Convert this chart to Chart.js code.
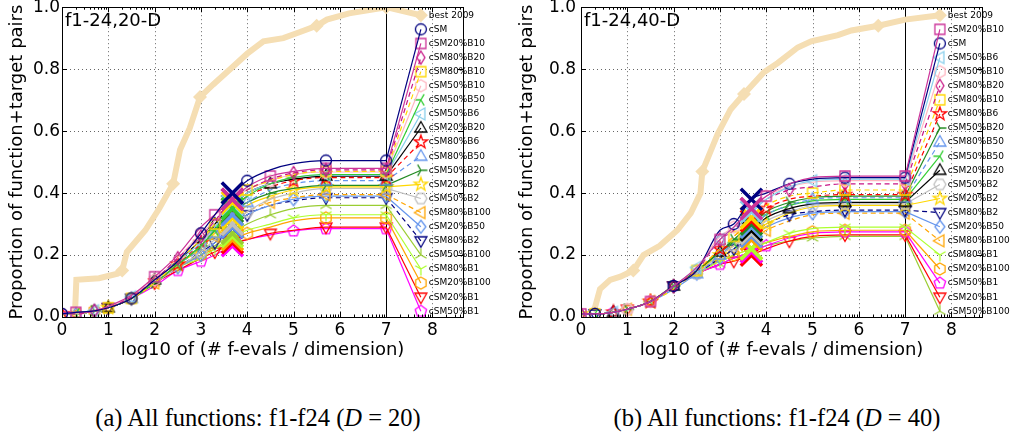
<!DOCTYPE html>
<html>
<head>
<meta charset="utf-8">
<script src="https://cdn.jsdelivr.net/npm/chart.js@4.4.1/dist/chart.umd.min.js"></script>
<style>
  body { margin: 0; background: #fff; width: 1014px; height: 436px; overflow: hidden; position: relative; }
  canvas { position: absolute; top: 0; }
  .cap { position: absolute; top: 406px; font: 24.5px "Liberation Serif", serif; line-height: 24px; white-space: nowrap; transform: translateX(-50%); color: #000; }
</style>
</head>
<body>
<canvas id="p20" width="507" height="372" style="left:0"></canvas>
<canvas id="p40" width="507" height="372" style="left:507px"></canvas>
<div class="cap" style="left:258px">(a) All functions: f1-f24 (<i>D</i> = 20)</div>
<div class="cap" style="left:777px">(b) All functions: f1-f24 (<i>D</i> = 40)</div>
<script>
// shared axes
const X_GRID = [0, 0.3, 0.7, 1.0, 1.5, 2.0, 2.5, 3.0, 3.3, 3.68, 4.0, 4.5, 5.0, 5.7, 7.0];
const X_TICKS = [0, 1, 2, 3, 4, 5, 6, 7, 8];
const Y_TICKS = [0, 0.2, 0.4, 0.6, 0.8, 1.0];
const X_MAX = 8.66;
const BUDGET_IDX = 9;      // X_GRID entry where the big crosses sit
const MAX_EVALS = 7;       // vertical line
const LEGEND_X = 7.75;
const LEGEND_TOP = 0.974;
const LEGEND_STEP = 0.0455;

// 20-D panel, algorithms in legend order
const ORDER_20D = ['cSM', 'cSM20%B10', 'cSM80%B20', 'cSM80%B10', 'cSM50%B10', 'cSM50%B50', 'cSM50%B6',
  'cSM20%B20', 'cSM80%B6', 'cSM80%B50', 'cSM50%B20', 'cSM20%B2', 'cSM50%B2', 'cSM80%B100', 'cSM20%B50',
  'cSM80%B2', 'cSM50%B100', 'cSM80%B1', 'cSM20%B100', 'cSM20%B1', 'cSM50%B1'];
const ECDF_20D = [
  [0.01, 0.015, 0.02, 0.03, 0.06, 0.12, 0.18, 0.27, 0.33, 0.40, 0.44, 0.475, 0.495, 0.505, 0.505],
  [0.015, 0.015, 0.02, 0.035, 0.07, 0.13, 0.20, 0.29, 0.33, 0.38, 0.42, 0.455, 0.47, 0.48, 0.48],
  [0.01, 0.01, 0.02, 0.03, 0.065, 0.12, 0.19, 0.26, 0.31, 0.38, 0.41, 0.445, 0.465, 0.475, 0.475],
  [0.015, 0.015, 0.02, 0.03, 0.06, 0.11, 0.18, 0.25, 0.30, 0.37, 0.41, 0.44, 0.46, 0.47, 0.47],
  [0.01, 0.01, 0.02, 0.03, 0.07, 0.12, 0.19, 0.27, 0.31, 0.38, 0.41, 0.44, 0.46, 0.468, 0.468],
  [0.01, 0.01, 0.02, 0.03, 0.06, 0.11, 0.17, 0.23, 0.28, 0.35, 0.39, 0.43, 0.45, 0.46, 0.46],
  [0.01, 0.015, 0.02, 0.03, 0.065, 0.12, 0.18, 0.24, 0.29, 0.36, 0.40, 0.43, 0.45, 0.458, 0.458],
  [0.01, 0.015, 0.02, 0.03, 0.06, 0.12, 0.18, 0.25, 0.30, 0.36, 0.40, 0.43, 0.445, 0.455, 0.455],
  [0.01, 0.01, 0.02, 0.03, 0.06, 0.11, 0.17, 0.24, 0.29, 0.35, 0.39, 0.42, 0.44, 0.45, 0.45],
  [0.01, 0.01, 0.02, 0.03, 0.06, 0.11, 0.17, 0.22, 0.27, 0.33, 0.37, 0.41, 0.43, 0.44, 0.44],
  [0.01, 0.01, 0.02, 0.03, 0.06, 0.11, 0.17, 0.23, 0.28, 0.34, 0.37, 0.40, 0.415, 0.425, 0.425],
  [0.01, 0.01, 0.02, 0.03, 0.06, 0.11, 0.17, 0.22, 0.27, 0.32, 0.36, 0.39, 0.41, 0.42, 0.42],
  [0.01, 0.01, 0.02, 0.03, 0.06, 0.11, 0.16, 0.21, 0.25, 0.30, 0.34, 0.38, 0.40, 0.415, 0.415],
  [0.01, 0.01, 0.02, 0.03, 0.06, 0.11, 0.17, 0.22, 0.26, 0.30, 0.34, 0.37, 0.385, 0.395, 0.395],
  [0.01, 0.01, 0.02, 0.03, 0.06, 0.11, 0.16, 0.20, 0.24, 0.29, 0.33, 0.36, 0.38, 0.39, 0.39],
  [0.01, 0.015, 0.02, 0.03, 0.06, 0.11, 0.16, 0.21, 0.24, 0.29, 0.33, 0.36, 0.375, 0.385, 0.385],
  [0.01, 0.01, 0.02, 0.03, 0.06, 0.11, 0.16, 0.20, 0.23, 0.27, 0.30, 0.33, 0.35, 0.36, 0.36],
  [0.01, 0.01, 0.02, 0.03, 0.06, 0.11, 0.16, 0.19, 0.22, 0.26, 0.28, 0.30, 0.32, 0.33, 0.33],
  [0.01, 0.01, 0.02, 0.03, 0.06, 0.11, 0.16, 0.20, 0.22, 0.25, 0.27, 0.29, 0.31, 0.32, 0.32],
  [0.01, 0.01, 0.02, 0.03, 0.06, 0.11, 0.15, 0.19, 0.21, 0.24, 0.25, 0.27, 0.28, 0.29, 0.29],
  [0.01, 0.01, 0.02, 0.03, 0.06, 0.10, 0.15, 0.18, 0.20, 0.23, 0.25, 0.265, 0.278, 0.285, 0.285]
];
const BEST_X_20D = [0.25, 0.28, 0.31, 0.8, 1.2, 1.3, 1.4, 1.8, 2.1, 2.4, 2.55, 2.76, 2.98, 3.26, 3.63, 4.0, 4.35, 4.78, 5.14, 5.5, 5.72, 6.2, 7.0];
const BEST_Y_20D = [0.0, 0.01, 0.12, 0.125, 0.14, 0.15, 0.21, 0.28, 0.35, 0.43, 0.54, 0.61, 0.71, 0.75, 0.80, 0.85, 0.89, 0.90, 0.92, 0.94, 0.96, 0.98, 1.0];

// 40-D panel
const ORDER_40D = ['cSM20%B10', 'cSM', 'cSM50%B6', 'cSM50%B10', 'cSM80%B20', 'cSM80%B10', 'cSM80%B6',
  'cSM50%B20', 'cSM80%B50', 'cSM50%B50', 'cSM20%B20', 'cSM50%B2', 'cSM20%B2', 'cSM80%B2', 'cSM20%B50',
  'cSM80%B100', 'cSM80%B1', 'cSM20%B100', 'cSM50%B1', 'cSM20%B1', 'cSM50%B100'];
const ECDF_40D = [
  [0.01, 0.01, 0.015, 0.025, 0.05, 0.10, 0.16, 0.25, 0.29, 0.35, 0.39, 0.43, 0.45, 0.455, 0.455],
  [0.01, 0.01, 0.015, 0.025, 0.05, 0.10, 0.15, 0.28, 0.30, 0.38, 0.40, 0.43, 0.445, 0.45, 0.45],
  [0.01, 0.01, 0.015, 0.025, 0.05, 0.10, 0.16, 0.25, 0.29, 0.34, 0.38, 0.42, 0.44, 0.445, 0.445],
  [0.01, 0.01, 0.015, 0.025, 0.05, 0.10, 0.16, 0.26, 0.29, 0.35, 0.39, 0.42, 0.435, 0.44, 0.44],
  [0.01, 0.01, 0.015, 0.025, 0.05, 0.10, 0.15, 0.25, 0.28, 0.35, 0.38, 0.41, 0.42, 0.43, 0.43],
  [0.01, 0.01, 0.015, 0.025, 0.05, 0.09, 0.15, 0.22, 0.26, 0.32, 0.36, 0.39, 0.40, 0.41, 0.41],
  [0.01, 0.01, 0.015, 0.025, 0.05, 0.10, 0.15, 0.22, 0.26, 0.31, 0.35, 0.38, 0.39, 0.395, 0.395],
  [0.01, 0.01, 0.015, 0.025, 0.05, 0.10, 0.15, 0.21, 0.25, 0.30, 0.34, 0.37, 0.385, 0.39, 0.39],
  [0.01, 0.01, 0.015, 0.025, 0.05, 0.10, 0.14, 0.20, 0.24, 0.29, 0.33, 0.36, 0.38, 0.385, 0.385],
  [0.01, 0.01, 0.015, 0.025, 0.05, 0.10, 0.15, 0.21, 0.24, 0.29, 0.33, 0.36, 0.375, 0.38, 0.38],
  [0.01, 0.01, 0.015, 0.025, 0.05, 0.10, 0.15, 0.21, 0.24, 0.28, 0.32, 0.35, 0.365, 0.37, 0.37],
  [0.01, 0.01, 0.015, 0.025, 0.05, 0.10, 0.14, 0.20, 0.23, 0.27, 0.31, 0.34, 0.36, 0.365, 0.365],
  [0.01, 0.01, 0.015, 0.025, 0.05, 0.10, 0.15, 0.20, 0.23, 0.27, 0.30, 0.335, 0.355, 0.36, 0.36],
  [0.01, 0.01, 0.015, 0.025, 0.05, 0.10, 0.14, 0.19, 0.22, 0.27, 0.30, 0.33, 0.34, 0.345, 0.345],
  [0.01, 0.01, 0.015, 0.025, 0.05, 0.09, 0.14, 0.19, 0.22, 0.26, 0.29, 0.32, 0.335, 0.34, 0.34],
  [0.01, 0.01, 0.015, 0.025, 0.05, 0.10, 0.15, 0.19, 0.22, 0.25, 0.28, 0.31, 0.33, 0.335, 0.335],
  [0.01, 0.01, 0.015, 0.025, 0.05, 0.10, 0.14, 0.18, 0.20, 0.22, 0.24, 0.27, 0.285, 0.29, 0.29],
  [0.01, 0.01, 0.015, 0.025, 0.05, 0.10, 0.15, 0.18, 0.20, 0.22, 0.24, 0.26, 0.275, 0.28, 0.28],
  [0.01, 0.01, 0.015, 0.025, 0.05, 0.10, 0.14, 0.17, 0.19, 0.21, 0.23, 0.255, 0.27, 0.275, 0.275],
  [0.01, 0.01, 0.015, 0.025, 0.05, 0.10, 0.14, 0.17, 0.18, 0.20, 0.22, 0.245, 0.26, 0.265, 0.265],
  [0.01, 0.01, 0.015, 0.025, 0.05, 0.10, 0.14, 0.17, 0.19, 0.21, 0.23, 0.245, 0.255, 0.26, 0.26]
];
const BEST_X_40D = [0.25, 0.3, 0.41, 0.63, 0.85, 1.13, 1.35, 1.7, 2.08, 2.37, 2.58, 2.62, 2.95, 3.23, 3.52, 3.95, 4.25, 4.68, 4.97, 5.55, 5.84, 6.42, 7.0];
const BEST_Y_40D = [0.02, 0.03, 0.09, 0.12, 0.13, 0.15, 0.20, 0.23, 0.28, 0.335, 0.40, 0.47, 0.59, 0.67, 0.72, 0.79, 0.82, 0.87, 0.89, 0.91, 0.925, 0.94, 0.96];

// colour, marker, dashed
const STYLE = {
  'cSM':        ['#000080', 'o', false],
  'cSM20%B10':  ['#cc3399', 's', false],
  'cSM80%B20':  ['#c71585', 'd', true],
  'cSM80%B10':  ['#ffd700', 's', true],
  'cSM50%B10':  ['#ffb6c1', 'h', false],
  'cSM50%B50':  ['#32cd32', '3', false],
  'cSM50%B6':   ['#87ceeb', '<', false],
  'cSM20%B20':  ['#000000', '^', false],
  'cSM80%B6':   ['#ff0000', '*', true],
  'cSM80%B50':  ['#6495ed', '^', true],
  'cSM50%B20':  ['#228b22', '4', false],
  'cSM20%B2':   ['#ffd700', '*', false],
  'cSM50%B2':   ['#c0c0c0', 'H', false],
  'cSM80%B100': ['#ffa500', '<', true],
  'cSM20%B50':  ['#6495ed', 'D', false],
  'cSM80%B2':   ['#000080', 'v', true],
  'cSM50%B100': ['#9acd32', '2', false],
  'cSM80%B1':   ['#adff2f', '1', false],
  'cSM20%B100': ['#ffa500', 'h', false],
  'cSM20%B1':   ['#ff0000', 'v', false],
  'cSM50%B1':   ['#ff00ff', 'p', false]
};
const BEST_COLOR = '#f5deb3';
const FONT = '"DejaVu Sans", sans-serif';

Chart.defaults.font.family = FONT;
Chart.defaults.color = '#000';

const markerCache = {};
function marker(shape, color) {
  const key = shape + color;
  if (markerCache[key]) return markerCache[key];
  const size = 18;
  const c = document.createElement('canvas');
  c.width = size; c.height = size;
  const g = c.getContext('2d');
  g.translate(size / 2, size / 2);
  g.strokeStyle = color;
  g.lineWidth = 1.3;
  g.beginPath();
  const poly = pts => { pts.forEach(([x, y], k) => k ? g.lineTo(x, y) : g.moveTo(x, y)); g.closePath(); };
  const ngon = (n, r, a0) => {
    const p = [];
    for (let k = 0; k < n; k++) { const a = a0 + k * 2 * Math.PI / n; p.push([r * Math.cos(a), r * Math.sin(a)]); }
    poly(p);
  };
  const spokes = a0 => {
    for (let k = 0; k < 3; k++) {
      const a = a0 + k * 2 * Math.PI / 3;
      g.moveTo(0, 0); g.lineTo(6.5 * Math.cos(a), 6.5 * Math.sin(a));
    }
  };
  switch (shape) {
    case 'o': g.arc(0, 0, 5.5, 0, 2 * Math.PI); break;
    case 's': g.rect(-5, -5, 10, 10); break;
    case 'd': poly([[0, -6.5], [4, 0], [0, 6.5], [-4, 0]]); break;
    case 'D': poly([[0, -6.5], [5, 0], [0, 6.5], [-5, 0]]); break;
    case '^': poly([[0, -6.5], [6, 4], [-6, 4]]); break;
    case 'v': poly([[0, 6.5], [6, -4], [-6, -4]]); break;
    case '<': poly([[-6.5, 0], [4, -6], [4, 6]]); break;
    case 'p': ngon(5, 6, -Math.PI / 2); break;
    case 'h': ngon(6, 6, -Math.PI / 2); break;
    case 'H': ngon(6, 6, 0); break;
    case '*': {
      const p = [];
      for (let k = 0; k < 10; k++) {
        const r = k % 2 ? 2.8 : 7, a = -Math.PI / 2 + k * Math.PI / 5;
        p.push([r * Math.cos(a), r * Math.sin(a)]);
      }
      poly(p); break;
    }
    case '1': spokes(Math.PI / 2); break;
    case '2': spokes(-Math.PI / 2); break;
    case '3': spokes(Math.PI); break;
    case '4': spokes(0); break;
  }
  g.stroke();
  markerCache[key] = c;
  return c;
}

const legendY = k => LEGEND_TOP - k * LEGEND_STEP;

function decorations(title, order) {
  const line = (ctx, x1, y1, x2, y2) => { ctx.beginPath(); ctx.moveTo(x1, y1); ctx.lineTo(x2, y2); ctx.stroke(); };
  return {
    id: 'deco',
    beforeDatasetsDraw(chart) {
      const { ctx, chartArea: a, scales: { x, y } } = chart;
      ctx.save();
      ctx.strokeStyle = 'rgba(0,0,0,0.6)';
      ctx.lineWidth = 1;
      ctx.setLineDash([1, 3]);
      X_TICKS.forEach(v => { const p = Math.round(x.getPixelForValue(v)) + 0.5; line(ctx, p, a.top, p, a.bottom); });
      Y_TICKS.forEach(v => { const p = Math.round(y.getPixelForValue(v)) + 0.5; line(ctx, a.left, p, a.right, p); });
      ctx.setLineDash([]);
      ctx.strokeStyle = '#000';
      const p7 = Math.round(x.getPixelForValue(MAX_EVALS)) + 0.5;
      line(ctx, p7, a.top, p7, a.bottom);
      ctx.restore();
    },
    afterDatasetsDraw(chart) {
      const { ctx, chartArea: a, scales: { x, y } } = chart;
      ctx.save();
      ctx.strokeStyle = '#000';
      ctx.lineWidth = 1;
      ctx.strokeRect(Math.round(a.left) + 0.5, Math.round(a.top) + 0.5, Math.round(a.right - a.left), Math.round(a.bottom - a.top));
      X_TICKS.forEach(v => {
        const p = Math.round(x.getPixelForValue(v)) + 0.5;
        line(ctx, p, a.bottom, p, a.bottom - 5); line(ctx, p, a.top, p, a.top + 5);
        for (let m = 2; m <= 9; m++) {
          const mv = v + Math.log10(m);
          if (mv >= X_MAX) continue;
          const q = Math.round(x.getPixelForValue(mv)) + 0.5;
          line(ctx, q, a.bottom, q, a.bottom - 2.5); line(ctx, q, a.top, q, a.top + 2.5);
        }
      });
      Y_TICKS.forEach(v => {
        const p = Math.round(y.getPixelForValue(v)) + 0.5;
        line(ctx, a.left, p, a.left + 5, p); line(ctx, a.right, p, a.right - 5, p);
      });
      ctx.fillStyle = '#000';
      ctx.font = '18px ' + FONT;
      ctx.textBaseline = 'alphabetic';
      ctx.fillText(title, a.left + 3, a.top + 19);
      ctx.font = '9px ' + FONT;
      ctx.textBaseline = 'middle';
      const lx = x.getPixelForValue(LEGEND_X) + 8;
      ['best 2009', ...order].forEach((name, k) => ctx.fillText(name, lx, y.getPixelForValue(legendY(k))));
      ctx.restore();
    }
  };
}

function makePanel(id, title, order, ecdf, bestX, bestY, bestMarks, yWidth, rightPad, yTitlePad, yTickPad) {
  const datasets = [];
  order.forEach((name, i) => {
    const [color, shape, dashed] = STYLE[name];
    const mk = marker(shape, color);
    const dash = dashed ? [5, 3.5] : [];
    const marks = new Set([i % 4, 4 + i % 3, 7 + i % 2, 10 + i % 3, 13, 14]);
    datasets.push({
      data: X_GRID.map((v, k) => ({ x: v, y: ecdf[i][k] })),
      borderColor: color,
      borderWidth: 1.2,
      borderDash: dash,
      cubicInterpolationMode: 'monotone',
      pointStyle: c => c.dataIndex === BUDGET_IDX ? 'crossRot' : mk,
      pointRadius: c => c.dataIndex === BUDGET_IDX ? 15 : (marks.has(c.dataIndex) ? 6 : 0),
      pointBorderWidth: c => c.dataIndex === BUDGET_IDX ? 3.5 : 1.2,
      pointBorderColor: color,
      pointBackgroundColor: 'transparent'
    });
    // connector from the last value to the legend entry
    datasets.push({
      data: [{ x: X_GRID[X_GRID.length - 1], y: ecdf[i][X_GRID.length - 1] }, { x: LEGEND_X, y: legendY(i + 1) }],
      borderColor: color,
      borderWidth: 1.2,
      borderDash: dash,
      tension: 0,
      pointStyle: mk,
      pointRadius: [0, 6],
      pointBackgroundColor: 'transparent'
    });
  });
  const bestData = bestX.map((v, k) => ({ x: v, y: bestY[k] }));
  bestData.push({ x: LEGEND_X, y: legendY(0) });
  datasets.push({
    data: bestData,
    borderColor: BEST_COLOR,
    borderWidth: 6,
    tension: 0,
    order: 10,
    pointStyle: 'rectRot',
    pointRadius: c => bestMarks.includes(c.dataIndex) ? 7 : 0,
    pointBackgroundColor: BEST_COLOR,
    pointBorderColor: BEST_COLOR,
    pointBorderWidth: 0
  });

  new Chart(document.getElementById(id), {
    type: 'line',
    data: { datasets },
    options: {
      responsive: false,
      animation: false,
      events: [],
      layout: { padding: { left: 0, top: 7, right: rightPad, bottom: 0 } },
      plugins: { legend: { display: false }, tooltip: { enabled: false } },
      scales: {
        x: {
          type: 'linear', min: 0, max: X_MAX,
          afterBuildTicks: s => { s.ticks = X_TICKS.map(v => ({ value: v })); },
          afterFit: s => { s.height = 55; s.paddingLeft = 0; s.paddingRight = 0; },
          grid: { display: false, drawTicks: false },
          border: { display: false },
          ticks: { font: { size: 17 }, color: '#000', padding: 3, maxRotation: 0, autoSkip: false, callback: v => String(v) },
          title: { display: true, text: 'log10 of (# f-evals / dimension)', font: { size: 18 }, color: '#000', padding: { top: 0, bottom: 11 } }
        },
        y: {
          type: 'linear', min: 0, max: 1,
          afterBuildTicks: s => { s.ticks = Y_TICKS.map(v => ({ value: v })); },
          afterFit: s => { s.width = yWidth; s.paddingTop = 0; s.paddingBottom = 0; },
          grid: { display: false, drawTicks: false },
          border: { display: false },
          ticks: { font: { size: 17 }, color: '#000', padding: yTickPad, callback: v => v.toFixed(1) },
          title: { display: true, text: 'Proportion of function+target pairs', font: { size: 18 }, color: '#000', padding: { top: yTitlePad, bottom: 0 } }
        }
      }
    },
    plugins: [decorations(title, order)]
  });
}

makePanel('p20', 'f1-24,20-D', ORDER_20D, ECDF_20D, BEST_X_20D, BEST_Y_20D, [5, 9, 12, 19, 22, 23], 62, 44, 7, 2);
makePanel('p40', 'f1-24,40-D', ORDER_40D, ECDF_40D, BEST_X_40D, BEST_Y_40D, [5, 11, 14, 21, 23], 74, 32, 10, 5);
</script>
</body>
</html>
